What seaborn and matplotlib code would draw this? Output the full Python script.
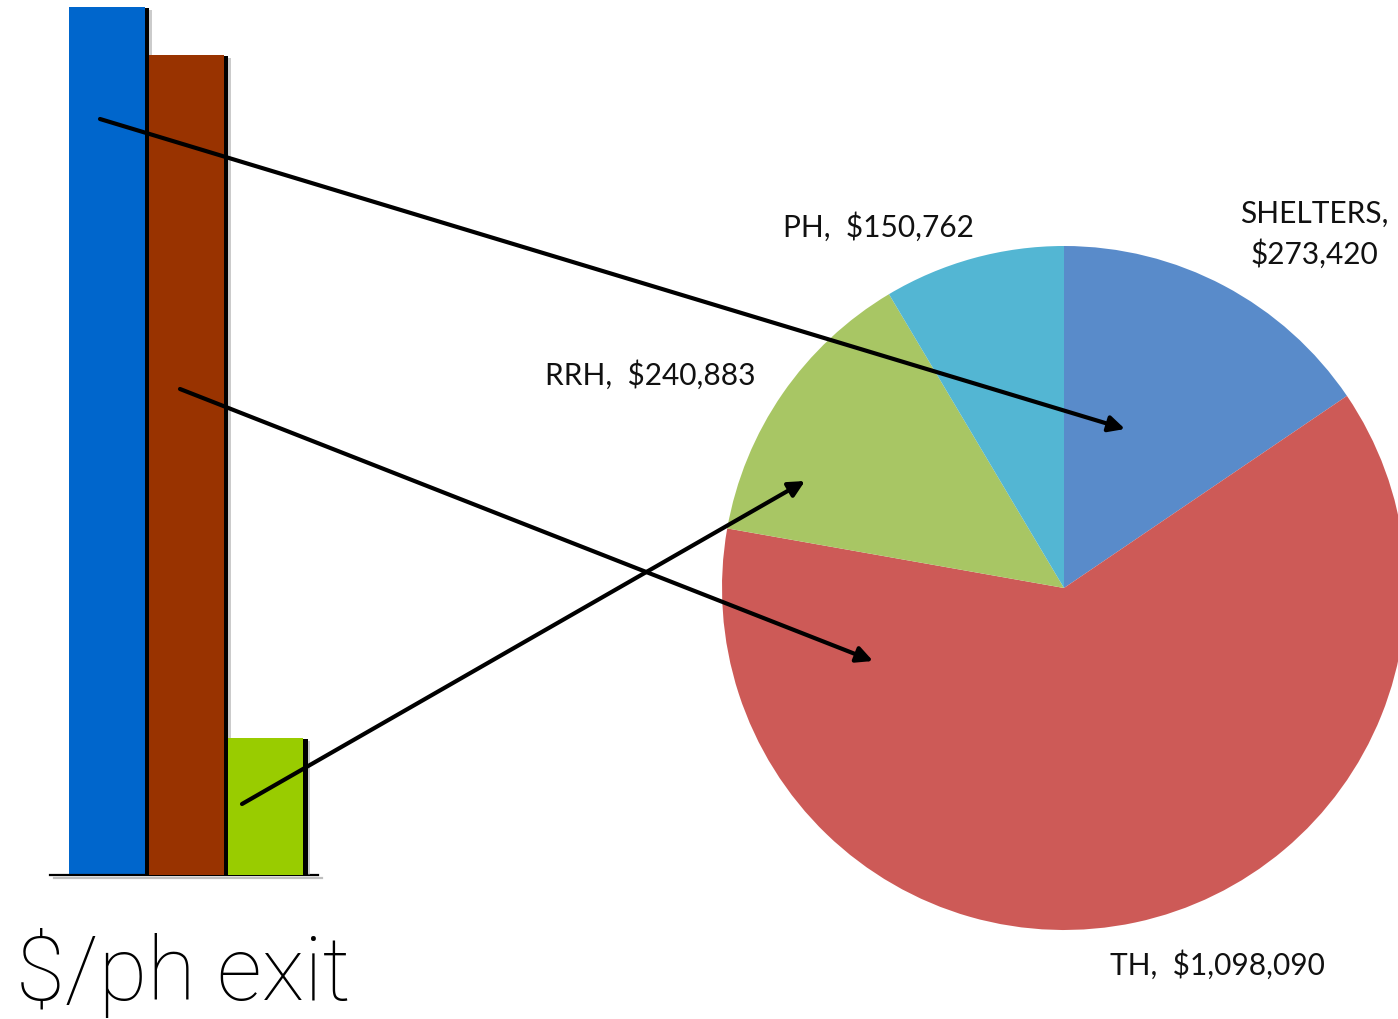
import matplotlib
matplotlib.use("Agg")
import matplotlib.pyplot as plt
import matplotlib.patheffects as pe
import seaborn as sns
import pandas as pd

# Cost per permanent-housing exit (relative bar heights)
bar_programs = ["SHELTERS", "TH", "RRH"]
bar_values = [868, 820, 137]
bar_colors = ["#0066CC", "#993300", "#99CC00"]

# Total spending by program type
pie_labels = ["SHELTERS", "TH", "RRH", "PH"]
pie_values = [273420, 1098090, 240883, 150762]
pie_colors = ["#598BCA", "#CD5A57", "#A8C664", "#53B6D3"]

sns.set_theme(style="white")
plt.rcParams["font.family"] = ["Lato", "DejaVu Sans"]

W, H = 1398, 1020
fig = plt.figure(figsize=(W / 100, H / 100), dpi=100)


def frac_box(x0, y0, x1, y1):
    """Pixel box (top-left origin) -> figure fraction rect."""
    return [x0 / W, (H - y1) / H, (x1 - x0) / W, (y1 - y0) / H]


# ---- bar chart ----
ax_bar = fig.add_axes(frac_box(50, 8, 318, 876))
df = pd.DataFrame({"program": bar_programs, "value": bar_values})
sns.barplot(data=df, x="program", y="value", hue="program",
            palette=bar_colors, width=0.95, saturation=1, legend=False,
            ax=ax_bar)
shadow = [pe.SimplePatchShadow(offset=(5, -2), shadow_rgbFace="#999999",
                               alpha=0.5),
          pe.SimplePatchShadow(offset=(3.2, -1), shadow_rgbFace="black",
                               alpha=1.0),
          pe.Normal()]
for p in ax_bar.patches:
    p.set_linewidth(0)
    p.set_path_effects(shadow)
    p.set_zorder(2 + p.get_x())
ax_bar.set_xlim(-0.72, 2.66)
ax_bar.set_ylim(0, max(bar_values))
ax_bar.set_xticks([])
ax_bar.set_yticks([])
ax_bar.set_xlabel("")
ax_bar.set_ylabel("")
for s in ["top", "right", "left"]:
    ax_bar.spines[s].set_visible(False)
ax_bar.spines["bottom"].set_color("black")
ax_bar.spines["bottom"].set_linewidth(1.6)
ax_bar.spines["bottom"].set_path_effects(
    [pe.SimpleLineShadow(offset=(3, -2), shadow_color="gray", alpha=0.5),
     pe.Normal()])
ax_bar.patch.set_alpha(0)

fig.text(16 / W, 1 - 973 / H, "$/ph exit", fontsize=64, fontweight="light",
         family=["Roboto", "DejaVu Sans"], va="center", ha="left",
         color="black")

# ---- pie chart ----
ax_pie = fig.add_axes(frac_box(722, 247, 1406, 931))
ax_pie.pie(pie_values, colors=pie_colors, startangle=90, counterclock=False,
           radius=1, wedgeprops=dict(linewidth=0))
ax_pie.set_xlim(-1, 1)
ax_pie.set_ylim(-1, 1)
ax_pie.set_aspect("auto")
ax_pie.axis("off")

# ---- overlay for labels and arrows ----
ov = fig.add_axes([0, 0, 1, 1])
ov.set_xlim(0, W)
ov.set_ylim(H, 0)
ov.axis("off")
ov.patch.set_alpha(0)

lab_kw = dict(fontsize=21.5, color="#111111", ha="center", va="center",
              family=["Lato", "DejaVu Sans"])
label_pos = {"SHELTERS": (1314, 234), "TH": (1217, 965),
             "RRH": (650, 375), "PH": (878, 227)}
for name, val in zip(pie_labels, pie_values):
    x, y = label_pos[name]
    sep = ",\n" if name == "SHELTERS" else ",  "
    ov.text(x, y, f"{name}{sep}${val:,}", linespacing=1.45, **lab_kw)

arrows = [((100, 120), (1125, 430)),
          ((180, 390), (873, 662)),
          ((242, 805), (805, 482))]
for (x0, y0), (x1, y1) in arrows:
    ov.annotate("", xy=(x1, y1), xytext=(x0, y0),
                arrowprops=dict(arrowstyle="-|>", color="black", lw=3,
                                mutation_scale=24, shrinkA=0, shrinkB=0))

fig.savefig("out.png", dpi=100)
